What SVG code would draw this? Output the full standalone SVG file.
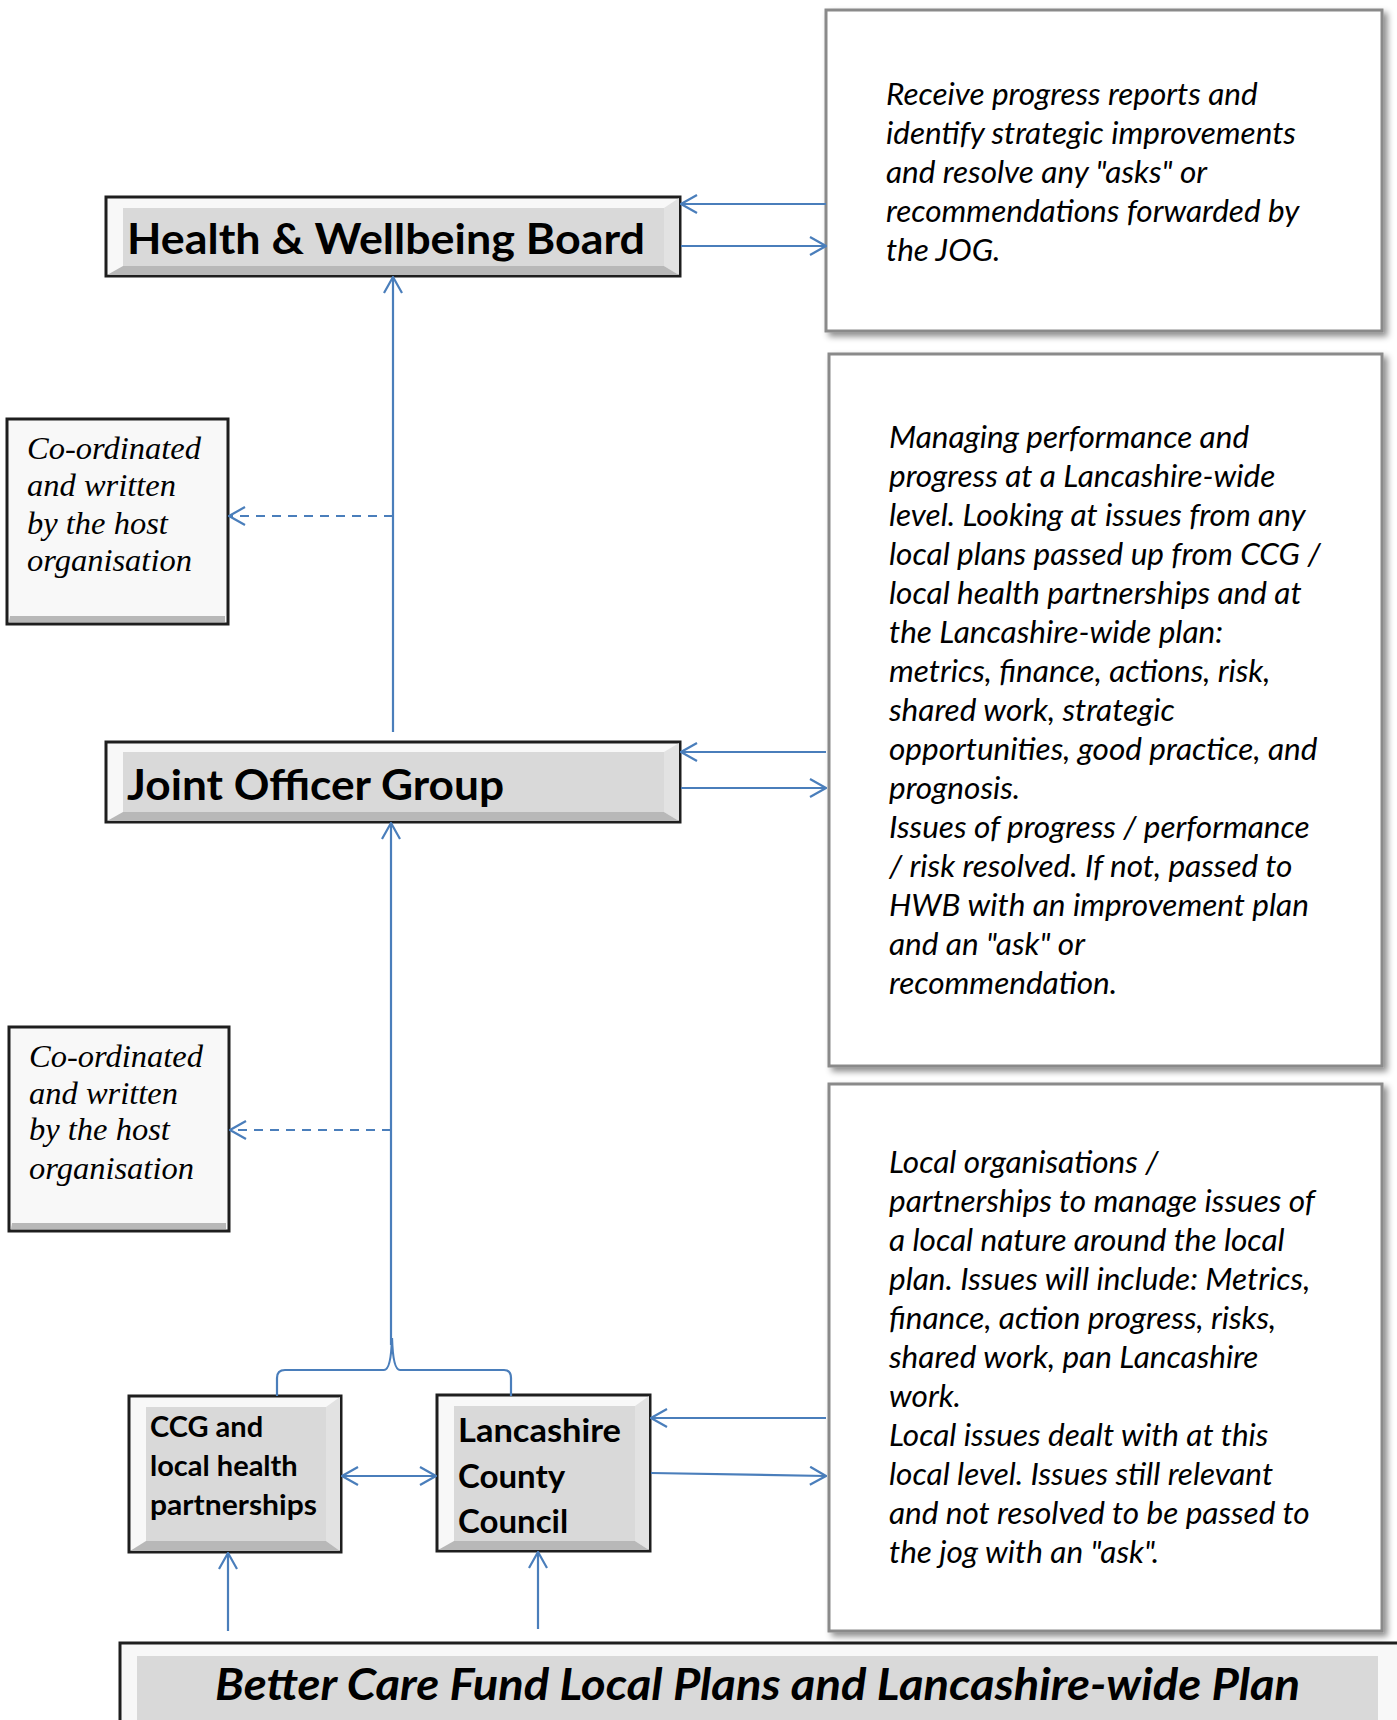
<svg xmlns="http://www.w3.org/2000/svg" width="1397" height="1720" viewBox="0 0 1397 1720">
<style>
.conn{stroke:#4a7ebb;stroke-width:2.2;fill:none}
.dash{stroke-dasharray:9,7}
.frame{fill:#f8f8f8;stroke:#1e1e1e;stroke-width:3}
.inner{fill:#d9d9d9}
.bev{fill:#b8b8b8}
.bevr{fill:#e2e2e2}
.note{fill:#fff;stroke:#8a8a8a;stroke-width:3}
.title{font-family:Lato,"Liberation Sans",sans-serif;font-weight:bold;fill:#000}
.para{font-family:Lato,"Liberation Sans",sans-serif;font-style:italic;font-size:31.5px;fill:#000}
.serif{font-family:"Liberation Serif",serif;font-style:italic;font-size:32.5px;fill:#000}
</style>
<defs>
<marker id="ah" viewBox="0 0 18 20" refX="17" refY="10" markerWidth="18" markerHeight="20" markerUnits="userSpaceOnUse" orient="auto-start-reverse">
<path d="M1,1 L17,10 L1,19" fill="none" stroke="#4a7ebb" stroke-width="2.2"/>
</marker>
<filter id="sh" x="-5%" y="-5%" width="115%" height="115%">
<feDropShadow dx="4" dy="4" stdDeviation="3" flood-color="#000" flood-opacity="0.45"/>
</filter>
</defs>
<rect width="1397" height="1720" fill="#fff"/>

<g id="hwb">
<rect class="frame" x="106" y="197" width="574" height="79"/>
<polygon class="bevr" points="664,208 679,198 679,275 664,266"/>
<polygon class="bev" points="123,266 664,266 679,275 107,275"/>
<rect class="inner" x="123" y="208" width="541" height="58"/>
<text class="title" x="127" y="254" font-size="42" textLength="518" lengthAdjust="spacingAndGlyphs">Health &amp; Wellbeing Board</text>
</g>

<g id="jog">
<rect class="frame" x="106" y="742" width="574" height="80"/>
<polygon class="bevr" points="664,752 679,743 679,821 664,812"/>
<polygon class="bev" points="123,812 664,812 679,821 107,821"/>
<rect class="inner" x="123" y="752" width="541" height="60"/>
<text class="title" x="127" y="800" font-size="42" textLength="377" lengthAdjust="spacingAndGlyphs">Joint Officer Group</text>
</g>

<g id="ccg">
<rect class="frame" x="129" y="1396" width="212" height="156"/>
<polygon class="bevr" points="326,1407 340,1397 340,1551 326,1541"/>
<polygon class="bev" points="146,1541 326,1541 340,1551 130,1551"/>
<rect class="inner" x="146" y="1407" width="180" height="134"/>
<text class="title" font-size="29" x="150" y="1437">CCG and</text>
<text class="title" font-size="29" x="150" y="1476">local health</text>
<text class="title" font-size="29" x="150" y="1515" textLength="167" lengthAdjust="spacingAndGlyphs">partnerships</text>
</g>

<g id="lcc">
<rect class="frame" x="437" y="1395" width="213" height="156"/>
<polygon class="bevr" points="635,1406 649,1396 649,1550 635,1541"/>
<polygon class="bev" points="454,1541 635,1541 649,1550 438,1550"/>
<rect class="inner" x="454" y="1406" width="181" height="135"/>
<text class="title" font-size="33" x="458" y="1442" textLength="163" lengthAdjust="spacingAndGlyphs">Lancashire</text>
<text class="title" font-size="33" x="458" y="1488">County</text>
<text class="title" font-size="33" x="458" y="1533">Council</text>
</g>

<g id="bcf">
<rect class="frame" x="120" y="1643" width="1290" height="90"/>
<rect class="inner" x="137" y="1656" width="1241" height="70"/>
<text class="title" font-style="italic" font-size="44" x="215" y="1700" textLength="1085" lengthAdjust="spacingAndGlyphs">Better Care Fund Local Plans and Lancashire-wide Plan</text>
</g>

<g id="host1">
<rect class="frame" x="7" y="419" width="221" height="205"/>
<polygon class="bev" points="10,616 225,616 225,622 9,622"/>
<text class="serif" x="27" y="459">Co-ordinated</text>
<text class="serif" x="27" y="496">and written</text>
<text class="serif" x="27" y="534">by the host</text>
<text class="serif" x="27" y="571">organisation</text>
</g>

<g id="host2">
<rect class="frame" x="9" y="1027" width="220" height="204"/>
<polygon class="bev" points="12,1223 226,1223 226,1229 11,1229"/>
<text class="serif" x="29" y="1067">Co-ordinated</text>
<text class="serif" x="29" y="1104">and written</text>
<text class="serif" x="29" y="1140">by the host</text>
<text class="serif" x="29" y="1179">organisation</text>
</g>

<g id="note-hwb">
<rect class="note" x="826" y="10" width="556" height="321" filter="url(#sh)"/>
<text class="para" x="886" y="105">Receive progress reports and</text>
<text class="para" x="886" y="144">identify strategic improvements</text>
<text class="para" x="886" y="183">and resolve any "asks" or</text>
<text class="para" x="886" y="222">recommendations forwarded by</text>
<text class="para" x="886" y="261">the JOG.</text>
</g>

<g id="note-jog">
<rect class="note" x="829" y="354" width="553" height="712" filter="url(#sh)"/>
<text class="para" x="889" y="448">Managing performance and</text>
<text class="para" x="889" y="487">progress at a Lancashire-wide</text>
<text class="para" x="889" y="526">level. Looking at issues from any</text>
<text class="para" x="889" y="565">local plans passed up from CCG /</text>
<text class="para" x="889" y="604">local health partnerships and at</text>
<text class="para" x="889" y="643">the Lancashire-wide plan:</text>
<text class="para" x="889" y="682">metrics, finance, actions, risk,</text>
<text class="para" x="889" y="721">shared work, strategic</text>
<text class="para" x="889" y="760">opportunities, good practice, and</text>
<text class="para" x="889" y="799">prognosis.</text>
<text class="para" x="889" y="838">Issues of progress / performance</text>
<text class="para" x="889" y="877">/ risk resolved. If not, passed to</text>
<text class="para" x="889" y="916">HWB with an improvement plan</text>
<text class="para" x="889" y="955">and an "ask" or</text>
<text class="para" x="889" y="994">recommendation.</text>
</g>

<g id="note-local">
<rect class="note" x="829" y="1084" width="553" height="547" filter="url(#sh)"/>
<text class="para" x="889" y="1173">Local organisations /</text>
<text class="para" x="889" y="1212">partnerships to manage issues of</text>
<text class="para" x="889" y="1251">a local nature around the local</text>
<text class="para" x="889" y="1290">plan. Issues will include: Metrics,</text>
<text class="para" x="889" y="1329">finance, action progress, risks,</text>
<text class="para" x="889" y="1368">shared work, pan Lancashire</text>
<text class="para" x="889" y="1407">work.</text>
<text class="para" x="889" y="1446">Local issues dealt with at this</text>
<text class="para" x="889" y="1485">local level. Issues still relevant</text>
<text class="para" x="889" y="1524">and not resolved to be passed to</text>
<text class="para" x="889" y="1563">the jog with an "ask".</text>
</g>

<g id="connectors">
<line class="conn" x1="826" y1="204" x2="681" y2="204" marker-end="url(#ah)"/>
<line class="conn" x1="681" y1="246" x2="826" y2="246" marker-end="url(#ah)"/>
<line class="conn" x1="393" y1="732" x2="393" y2="277" marker-end="url(#ah)"/>
<line class="conn dash" x1="393" y1="516" x2="229" y2="516" marker-end="url(#ah)"/>
<line class="conn" x1="826" y1="752" x2="681" y2="752" marker-end="url(#ah)"/>
<line class="conn" x1="681" y1="788" x2="826" y2="788" marker-end="url(#ah)"/>
<line class="conn" x1="391" y1="1345" x2="391" y2="823" marker-end="url(#ah)"/>
<line class="conn dash" x1="391" y1="1130" x2="230" y2="1130" marker-end="url(#ah)"/>
<path class="conn" d="M277,1396 L277,1378 Q277,1370 285,1370 L384,1370 Q391,1370 392,1338 Q393,1370 400,1370 L504,1370 Q511,1370 511,1378 L511,1396"/>
<line class="conn" x1="342" y1="1476" x2="436" y2="1476" marker-start="url(#ah)" marker-end="url(#ah)"/>
<line class="conn" x1="826" y1="1418" x2="651" y2="1418" marker-end="url(#ah)"/>
<line class="conn" x1="651" y1="1473" x2="826" y2="1476" marker-end="url(#ah)"/>
<line class="conn" x1="228" y1="1631" x2="228" y2="1553" marker-end="url(#ah)"/>
<line class="conn" x1="538" y1="1629" x2="538" y2="1552" marker-end="url(#ah)"/>
</g>
</svg>
